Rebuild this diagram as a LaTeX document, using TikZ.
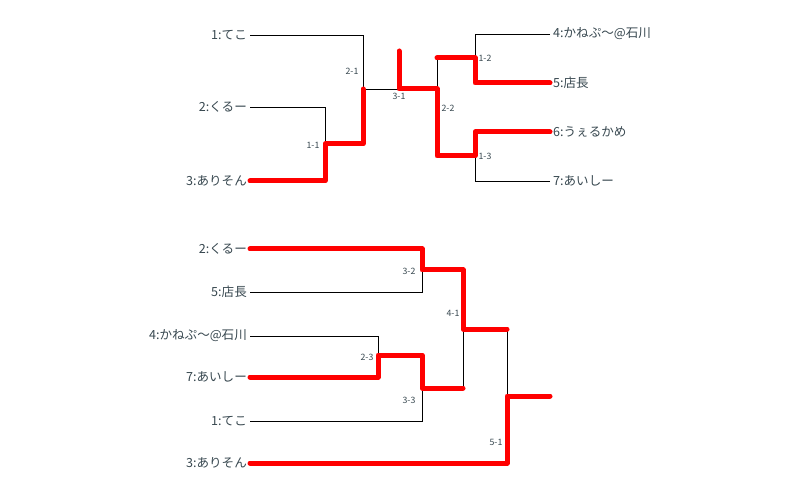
\documentclass[tikz,border=0pt]{standalone}
\usepackage{fontspec}
\setmainfont{Noto Sans CJK JP}
\newfontfamily\cjk{Noto Sans CJK JP}
\definecolor{txt}{HTML}{37474F}
\tikzset{
  team/.style={font=\cjk\fontsize{12.6}{14}\selectfont, text=txt, inner ysep=0pt, inner xsep=3bp},
  lteam/.style={team, anchor=east},
  rteam/.style={team, anchor=west},
  mlabel/.style={font=\cjk\fontsize{8.8}{10}\selectfont, text=txt, inner sep=0pt},
  win/.style={red, line width=5bp, line cap=round, line join=round},
  lose/.style={black, line width=0.8bp},
}
\begin{document}
\begin{tikzpicture}[x=1bp,y=-1bp]
\useasboundingbox (0,0) rectangle (800,498);
% ---------- top bracket ----------
\node[lteam] (t1) at (250,35) {1:てこ};
\node[lteam] (t2) at (250,107) {2:くるー};
\node[lteam] (t3) at (250,181) {3:ありそん};
\node[rteam] (t4) at (550,34) {4:かねぷ～@石川};
\node[rteam] (t5) at (550,83) {5:店長};
\node[rteam] (t6) at (550,132) {6:うぇるかめ};
\node[rteam] (t7) at (550,181) {7:あいしー};
\coordinate (m11) at (325,144);
\coordinate (m21) at (363,89);
\coordinate (m31) at (399,89);
\coordinate (m31top) at (399,51);
\coordinate (m22) at (437,89);
\coordinate (m12) at (475,58);
\coordinate (m13) at (475,156);
\draw[lose] (t1.east) -| (m21) -- (m31);
\draw[lose] (t2.east) -| (m11);
\draw[lose] (m22 |- m12) -- (m22);
\draw[lose] (t4.west) -| (m12);
\draw[lose] (t7.west) -| (m13);
\draw[win] (t3.east) -| (m11) -- (m11 -| m21) -- (m21);
\draw[win] (m31top) -- (m31) -- (m22) -- (m22 |- m13) -- (m13) -- (m13 |- t6.west) -- (t6.west);
\draw[win] (m22 |- m12) -- (m12) -- (m12 |- t5.west) -- (t5.west);
\node[mlabel] (l21) at (352,71) {2-1};
\node[mlabel] (l11) at (313,145) {1-1};
\node[mlabel] (l31) at (399,96) {3-1};
\node[mlabel] (l22) at (448,108) {2-2};
\node[mlabel] (l12) at (485,58) {1-2};
\node[mlabel] (l13) at (485,156) {1-3};
% ---------- bottom bracket ----------
\node[lteam] (b2) at (250,249) {2:くるー};
\node[lteam] (b5) at (250,292) {5:店長};
\node[lteam] (b4) at (250,336) {4:かねぷ～@石川};
\node[lteam] (b7) at (250,377) {7:あいしー};
\node[lteam] (b1) at (250,421) {1:てこ};
\node[lteam] (b3) at (250,463) {3:ありそん};
\coordinate (n32) at (422,270);
\coordinate (n23) at (378,355);
\coordinate (n33) at (422,388);
\coordinate (n41) at (463,329);
\coordinate (n51) at (507,396);
\coordinate (nend) at (550,396);
\draw[lose] (b5.east) -| (n32);
\draw[lose] (b4.east) -| (n23);
\draw[lose] (b1.east) -| (n33);
\draw[lose] (n41) -- (n33 -| n41);
\draw[lose] (n41 -| n51) -- (n51);
\draw[win] (b2.east) -| (n32) -- (n32 -| n41) -- (n41) -- (n41 -| n51);
\draw[win] (b7.east) -| (n23) -- (n23 -| n33) -- (n33) -- (n33 -| n41);
\draw[win] (b3.east) -| (n51) -- (nend);
\node[mlabel] (l32) at (409,271) {3-2};
\node[mlabel] (l23) at (367,357) {2-3};
\node[mlabel] (l33) at (409,400) {3-3};
\node[mlabel] (l41) at (453,313) {4-1};
\node[mlabel] (l51) at (496,442) {5-1};
\end{tikzpicture}
\end{document}
